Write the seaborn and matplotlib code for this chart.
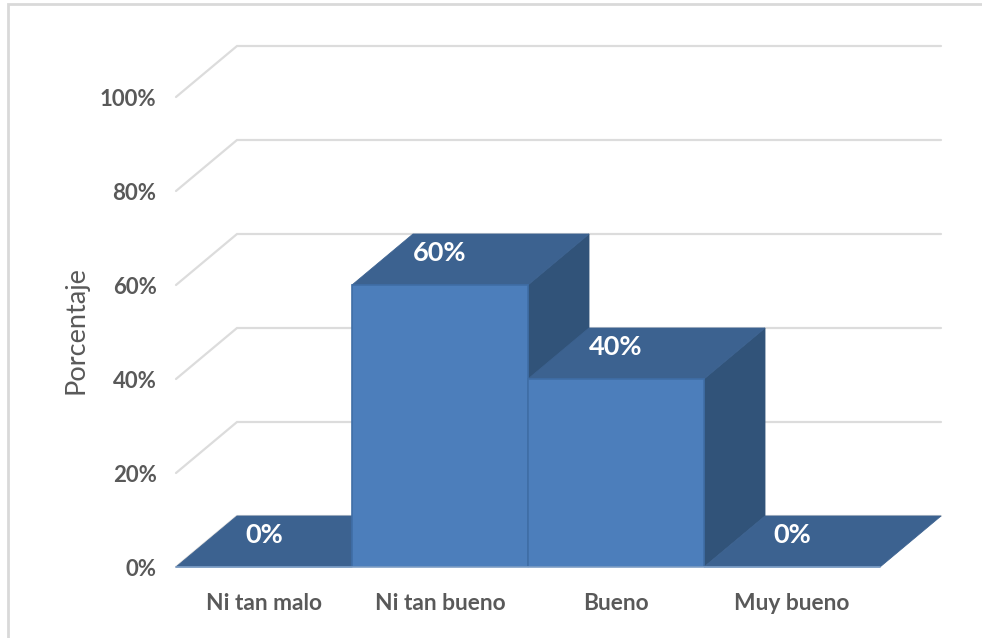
import matplotlib
matplotlib.use("Agg")
import matplotlib.pyplot as plt
from matplotlib.patches import Polygon, Rectangle
import pandas as pd
import seaborn as sns

categories = ["Ni tan malo", "Ni tan bueno", "Bueno", "Muy bueno"]
values = [0, 60, 40, 0]
y_ticks = [0, 20, 40, 60, 80, 100]
y_label = "Porcentaje"

FRONT = "#4c7ebb"
TOP = "#3c6290"
SIDE = "#315379"
EDGE = "#3f6ea6"
GRID = "#dcdcdc"
TEXT = "#595959"
FONT = "Lato"

sns.set_theme(style="white")
plt.rcParams["font.family"] = [FONT, "DejaVu Sans"]

W, H = 982, 638
fig = plt.figure(figsize=(W / 100, H / 100), dpi=100, facecolor="white")
ax = fig.add_axes([176 / W, (H - 567) / H, 704 / W, 470 / H], facecolor="none")

df = pd.DataFrame({"categoria": categories, "valor": values})
sns.barplot(data=df, x="categoria", y="valor", width=1.0, color=FRONT, saturation=1,
            edgecolor=EDGE, linewidth=1.2, ax=ax, zorder=6)

ax.set_xlim(-0.5, 3.5)
ax.set_ylim(0, 100)

# Depth of the pseudo-3D box, in data units
dx = 61 / 176
dy = 51 / 4.7

# Back wall gridlines
for t in y_ticks:
    ax.plot([-0.5, -0.5 + dx, 3.5 + dx], [t, t + dy, t + dy], color=GRID, lw=1.6,
            clip_on=False, zorder=1, solid_joinstyle="miter")

# Top and side faces
for i, v in enumerate(values):
    l, r = i - 0.5, i + 0.5
    ax.add_patch(Polygon([(l, v), (r, v), (r + dx, v + dy), (l + dx, v + dy)],
                         closed=True, facecolor=TOP, edgecolor=TOP, lw=0.6,
                         clip_on=False, zorder=2 + i * 0.5))
    if v > 0:
        ax.add_patch(Polygon([(r, 0), (r, v), (r + dx, v + dy), (r + dx, dy)],
                             closed=True, facecolor=SIDE, edgecolor=SIDE, lw=0.6,
                             clip_on=False, zorder=2 + i * 0.4))

# Light base line under the floor
ax.plot([-0.5, 3.5], [0, 0], color="#7f9fc6", lw=1.2, clip_on=False, zorder=7)

# Data labels
for i, v in enumerate(values):
    ax.text(i, v + 6.9, f"{v}%", ha="center", va="center", color="white",
            fontsize=19.5, fontweight="bold", zorder=8)

ax.set_yticks(y_ticks)
ax.set_yticklabels([f"{t}%" for t in y_ticks], fontsize=16, fontweight="bold", color=TEXT)
ax.set_xticks(range(len(categories)))
ax.set_xticklabels(categories, fontsize=16.4, fontweight="bold", color=TEXT)
ax.tick_params(axis="y", length=0, pad=14)
ax.tick_params(axis="x", length=0, pad=19)
ax.set_xlabel("")
ax.set_ylabel("")
for s in ax.spines.values():
    s.set_visible(False)

fig.text(76 / W, 1 - 330 / H, y_label, rotation=90, ha="center", va="center",
         fontsize=19.5, color=TEXT)

# Chart-area border
fig.add_artist(Rectangle((8 / W, -0.02), 1.02, 1 - 4 / H + 0.02, transform=fig.transFigure,
                         fill=False, edgecolor="#d9d9d9", lw=2.0))

fig.savefig("out.png", dpi=100, facecolor="white")
